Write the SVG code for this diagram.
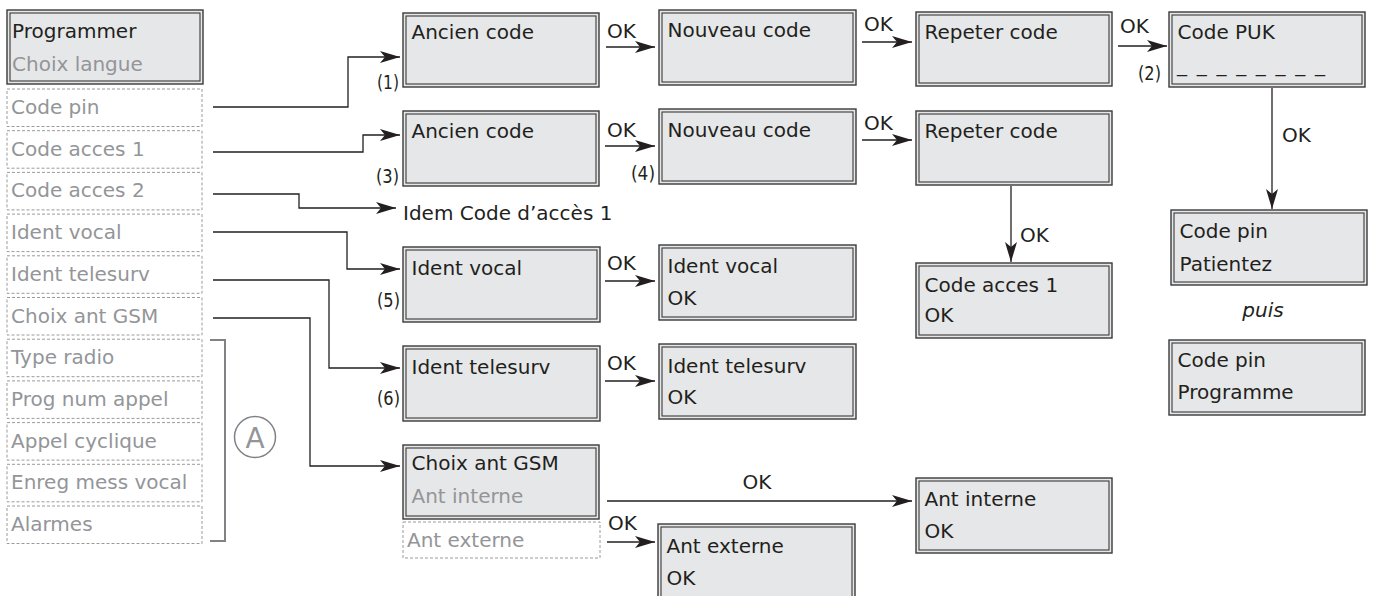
<svg xmlns="http://www.w3.org/2000/svg" width="1375" height="596" viewBox="0 0 1375 596">
<style>
.bo{fill:#e6e7e8;stroke:#3a3a3a;stroke-width:1.4}
.bi{fill:#e6e7e8;stroke:#3a3a3a;stroke-width:1.1}
.dash{fill:#fff;stroke:#9a9a9a;stroke-width:1;stroke-dasharray:3 2}
.t{font-family:"DejaVu Sans","Liberation Sans",sans-serif;font-size:20px;fill:#231f20}
.g{fill:#939598}
.s{font-size:20px}
.conn{fill:none;stroke:#231f20;stroke-width:1.3}
.br{fill:none;stroke:#808285;stroke-width:2}
</style>
<defs>
<marker id="ah" markerUnits="userSpaceOnUse" markerWidth="21" markerHeight="14" refX="20" refY="6.5" orient="auto">
<path d="M0,0.5 L20,6.5 L0,12.5 L5,6.5 Z" fill="#231f20"/>
</marker>
</defs>
<rect width="1375" height="596" fill="#fff"/>

<g id="menu">
<g id="m-programmer"><rect class="bo" x="7" y="10" width="196" height="74"/><rect class="bi" x="10" y="13" width="190" height="68"/>
<text class="t" x="12" y="38">Programmer</text><text class="t g" x="12" y="71">Choix langue</text></g>
<g id="m-codepin"><rect class="dash" x="7" y="89" width="195" height="37.5"/><text class="t g" x="11" y="114">Code pin</text></g>
<g id="m-acces1"><rect class="dash" x="7" y="130.7" width="195" height="37.5"/><text class="t g" x="11" y="155.7">Code acces 1</text></g>
<g id="m-acces2"><rect class="dash" x="7" y="172.4" width="195" height="37.5"/><text class="t g" x="11" y="197.4">Code acces 2</text></g>
<g id="m-identvocal"><rect class="dash" x="7" y="214.1" width="195" height="37.5"/><text class="t g" x="11" y="239.1">Ident vocal</text></g>
<g id="m-identtele"><rect class="dash" x="7" y="255.8" width="195" height="37.5"/><text class="t g" x="11" y="280.8">Ident telesurv</text></g>
<g id="m-choixant"><rect class="dash" x="7" y="297.5" width="195" height="37.5"/><text class="t g" x="11" y="322.5">Choix ant GSM</text></g>
<g id="m-typeradio"><rect class="dash" x="7" y="339.2" width="195" height="37.5"/><text class="t g" x="11" y="364.2">Type radio</text></g>
<g id="m-prognum"><rect class="dash" x="7" y="380.9" width="195" height="37.5"/><text class="t g" x="11" y="405.9">Prog num appel</text></g>
<g id="m-appelcyc"><rect class="dash" x="7" y="422.6" width="195" height="37.5"/><text class="t g" x="11" y="447.6">Appel cyclique</text></g>
<g id="m-enreg"><rect class="dash" x="7" y="464.3" width="195" height="37.5"/><text class="t g" x="11" y="489.3">Enreg mess vocal</text></g>
<g id="m-alarmes"><rect class="dash" x="7" y="506" width="195" height="37.5"/><text class="t g" x="11" y="531">Alarmes</text></g>
</g>

<g id="bracketA">
<path class="br" d="M210,340 H225 V541 H210"/>
<circle cx="255" cy="437" r="20.5" fill="none" stroke="#808285" stroke-width="1.5"/>
<text class="t g" x="255" y="447.5" style="font-size:28px" text-anchor="middle">A</text>
</g>

<g id="connectors">
<path class="conn" marker-end="url(#ah)" d="M213,107 H348 V57 H400"/>
<path class="conn" marker-end="url(#ah)" d="M213,152 H363 V135 H400"/>
<path class="conn" marker-end="url(#ah)" d="M213,194 H299 V208 H396"/>
<path class="conn" marker-end="url(#ah)" d="M213,232 H347 V269 H400"/>
<path class="conn" marker-end="url(#ah)" d="M213,280 H329 V368 H400"/>
<path class="conn" marker-end="url(#ah)" d="M213,318 H310 V466 H400"/>
<path class="conn" marker-end="url(#ah)" d="M606,47 H655"/>
<path class="conn" marker-end="url(#ah)" d="M862,42 H912"/>
<path class="conn" marker-end="url(#ah)" d="M1118,46 H1167"/>
<path class="conn" marker-end="url(#ah)" d="M605,146 H655"/>
<path class="conn" marker-end="url(#ah)" d="M862,140 H912"/>
<path class="conn" marker-end="url(#ah)" d="M1011,186 V262"/>
<path class="conn" marker-end="url(#ah)" d="M1272,88 V209"/>
<path class="conn" marker-end="url(#ah)" d="M605,281 H655"/>
<path class="conn" marker-end="url(#ah)" d="M605,381 H655"/>
<path class="conn" marker-end="url(#ah)" d="M607,501 H912"/>
<path class="conn" marker-end="url(#ah)" d="M607,542 H655"/>
<text class="t" x="607" y="38">OK</text>
<text class="t" x="864" y="31">OK</text>
<text class="t" x="1120" y="33">OK</text>
<text class="t" x="607" y="137">OK</text>
<text class="t" x="864" y="130">OK</text>
<text class="t" x="1020" y="242">OK</text>
<text class="t" x="1282" y="142">OK</text>
<text class="t" x="607" y="270">OK</text>
<text class="t" x="607" y="370">OK</text>
<text class="t" x="757" y="489" text-anchor="middle">OK</text>
<text class="t" x="608" y="530">OK</text>
<text class="t s" x="377" y="89" textLength="22" lengthAdjust="spacingAndGlyphs">(1)</text>
<text class="t s" x="1138" y="80" textLength="23" lengthAdjust="spacingAndGlyphs">(2)</text>
<text class="t s" x="376" y="183" textLength="23" lengthAdjust="spacingAndGlyphs">(3)</text>
<text class="t s" x="631" y="180" textLength="24" lengthAdjust="spacingAndGlyphs">(4)</text>
<text class="t s" x="377" y="307" textLength="23" lengthAdjust="spacingAndGlyphs">(5)</text>
<text class="t s" x="377" y="405" textLength="23" lengthAdjust="spacingAndGlyphs">(6)</text>
<text class="t" x="403" y="220">Idem Code d’accès 1</text>
</g>

<g id="n-ancien1"><rect class="bo" x="403" y="13" width="196" height="74"/><rect class="bi" x="406" y="16" width="190" height="68"/><text class="t" x="411.5" y="39">Ancien code</text></g>
<g id="n-nouveau1"><rect class="bo" x="659" y="10" width="197" height="75"/><rect class="bi" x="662" y="13" width="191" height="69"/><text class="t" x="667.5" y="37">Nouveau code</text></g>
<g id="n-repeter1"><rect class="bo" x="916" y="12" width="196" height="74"/><rect class="bi" x="919" y="15" width="190" height="68"/><text class="t" x="924.5" y="38.5">Repeter code</text></g>
<g id="n-puk"><rect class="bo" x="1169" y="12" width="196" height="75"/><rect class="bi" x="1172" y="15" width="190" height="69"/><text class="t" x="1177.5" y="38.5">Code PUK</text><text class="t" x="1177" y="72" textLength="148" lengthAdjust="spacing">_ _ _ _ _ _ _ _</text></g>
<g id="n-ancien2"><rect class="bo" x="403" y="111" width="196" height="75"/><rect class="bi" x="406" y="114" width="190" height="69"/><text class="t" x="411.5" y="138">Ancien code</text></g>
<g id="n-nouveau2"><rect class="bo" x="659" y="109" width="197" height="75"/><rect class="bi" x="662" y="112" width="191" height="69"/><text class="t" x="667.5" y="136.5">Nouveau code</text></g>
<g id="n-repeter2"><rect class="bo" x="916" y="111" width="196" height="74"/><rect class="bi" x="919" y="114" width="190" height="68"/><text class="t" x="924.5" y="137.5">Repeter code</text></g>
<g id="n-acces1ok"><rect class="bo" x="916" y="263" width="196" height="75"/><rect class="bi" x="919" y="266" width="190" height="69"/><text class="t" x="924.5" y="291.5">Code acces 1</text><text class="t" x="924.5" y="321.5">OK</text></g>
<g id="n-patientez"><rect class="bo" x="1171" y="210" width="196" height="75"/><rect class="bi" x="1174" y="213" width="190" height="69"/><text class="t" x="1179.5" y="238">Code pin</text><text class="t" x="1179.5" y="271">Patientez</text></g>
<text class="t" x="1263" y="317" text-anchor="middle" font-style="italic">puis</text>
<g id="n-programme"><rect class="bo" x="1169" y="340" width="196" height="75"/><rect class="bi" x="1172" y="343" width="190" height="69"/><text class="t" x="1177.5" y="367">Code pin</text><text class="t" x="1177.5" y="399">Programme</text></g>
<g id="n-identvocal"><rect class="bo" x="403" y="247" width="197" height="75"/><rect class="bi" x="406" y="250" width="191" height="69"/><text class="t" x="411.5" y="275">Ident vocal</text></g>
<g id="n-identtele"><rect class="bo" x="403" y="346" width="197" height="75"/><rect class="bi" x="406" y="349" width="191" height="69"/><text class="t" x="411.5" y="373.5">Ident telesurv</text></g>
<g id="n-identvocalok"><rect class="bo" x="659" y="245" width="197" height="75"/><rect class="bi" x="662" y="248" width="191" height="69"/><text class="t" x="667.5" y="273">Ident vocal</text><text class="t" x="667.5" y="305">OK</text></g>
<g id="n-identteleok"><rect class="bo" x="659" y="344" width="197" height="75"/><rect class="bi" x="662" y="347" width="191" height="69"/><text class="t" x="667.5" y="372.5">Ident telesurv</text><text class="t" x="667.5" y="403.5">OK</text></g>
<g id="n-choixant"><rect class="bo" x="403" y="445" width="196" height="74"/><rect class="bi" x="406" y="448" width="190" height="68"/><text class="t" x="411.5" y="470">Choix ant GSM</text><text class="t g" x="411.5" y="503">Ant interne</text></g>
<g id="n-antexterne-opt"><rect class="dash" x="403" y="522" width="197" height="36"/><text class="t g" x="407" y="547">Ant externe</text></g>
<g id="n-antinterneok"><rect class="bo" x="916" y="478" width="196" height="75"/><rect class="bi" x="919" y="481" width="190" height="69"/><text class="t" x="924.5" y="506">Ant interne</text><text class="t" x="924.5" y="538">OK</text></g>
<g id="n-antexterneok"><rect class="bo" x="658" y="524" width="197" height="76"/><rect class="bi" x="661" y="527" width="191" height="70"/><text class="t" x="666.5" y="552.5">Ant externe</text><text class="t" x="666.5" y="585">OK</text></g>
</svg>
